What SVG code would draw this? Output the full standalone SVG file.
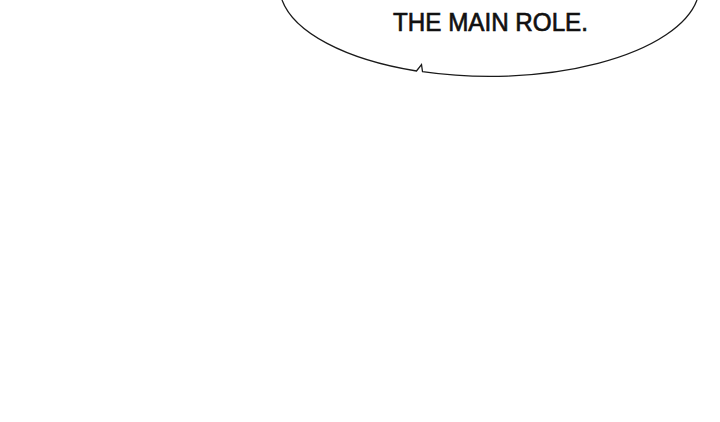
<svg xmlns="http://www.w3.org/2000/svg" width="720" height="422" viewBox="0 0 720 422">
<style>
.bubble{fill:#ffffff;stroke:#1a1a1a;stroke-width:1.3;stroke-linejoin:miter}
.txt{font-family:"Liberation Sans",Arial,sans-serif;font-size:26px;fill:#111111;stroke:#111111;stroke-width:0.7}
</style>
<rect x="0" y="0" width="720" height="422" fill="#ffffff"/>
<g id="bubble">
<path class="bubble" d="M 282 0 A 210 91 0 0 0 416.5 71 L 421.5 64.5 L 422.5 71.6 A 210 91 0 0 0 697 0"/>
<text class="txt" x="393" y="31" textLength="195" lengthAdjust="spacingAndGlyphs">THE MAIN ROLE.</text>
</g>
<g id="connectors"/>
</svg>
